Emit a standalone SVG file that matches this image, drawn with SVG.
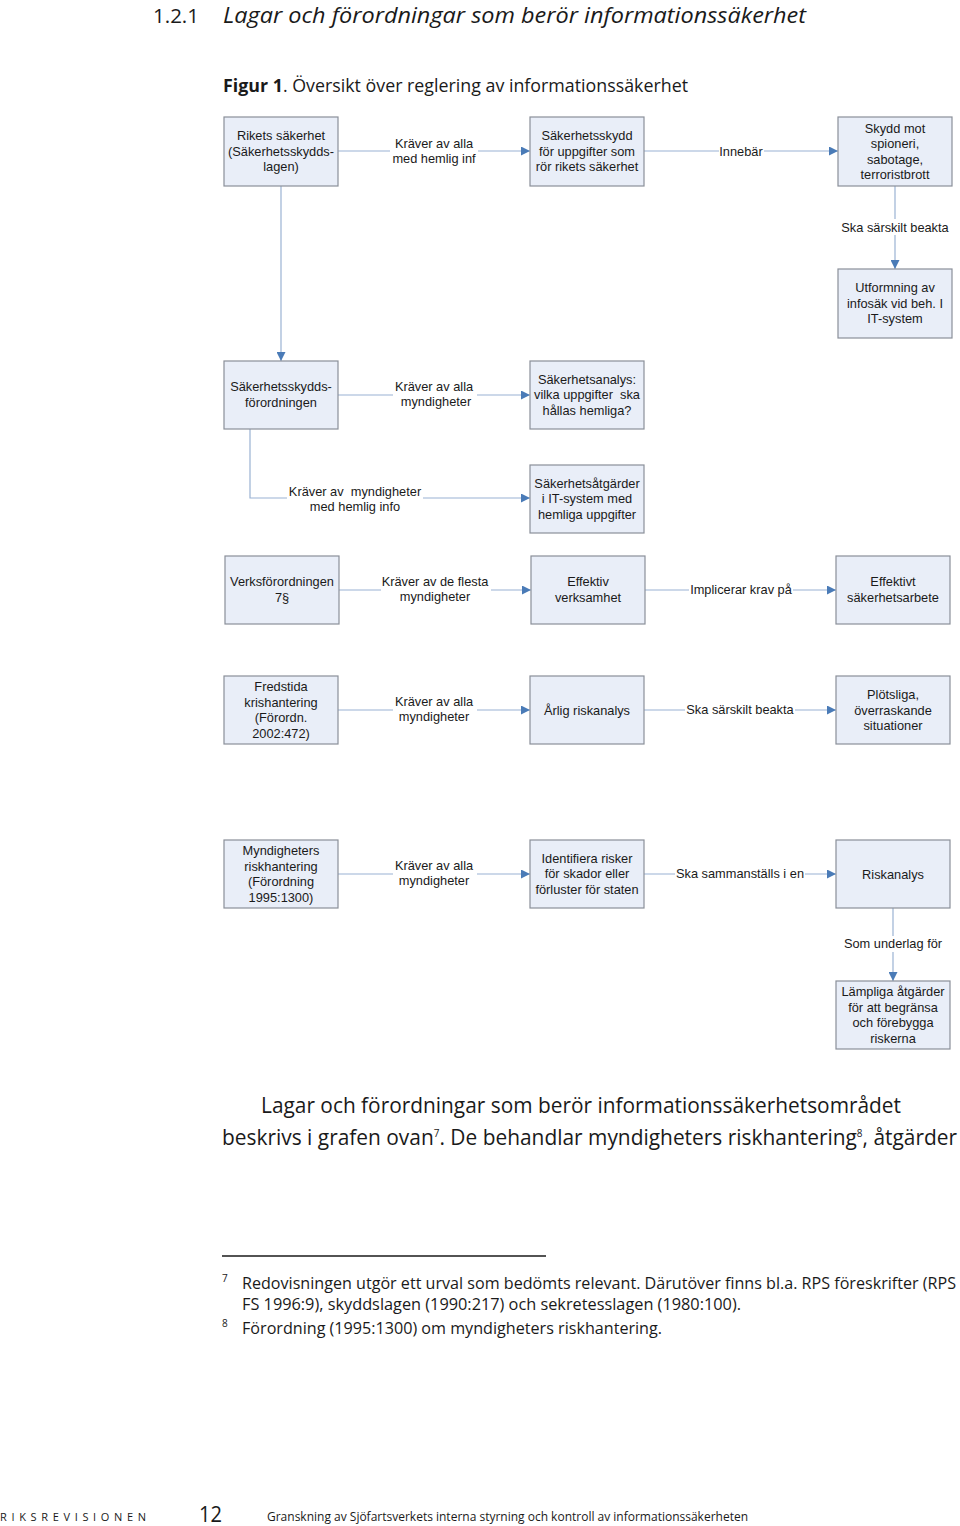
<svg xmlns="http://www.w3.org/2000/svg" width="960" height="1526" viewBox="0 0 960 1526">
<defs>
<style>
.box{fill:#e9eef8;stroke:#8a8f99;stroke-width:1.2}
.bt{font-family:"Liberation Sans",Arial,sans-serif;font-size:12.8px;fill:#1a1a1a;text-anchor:middle}
.ln{fill:none;stroke:#9ab2d3;stroke-width:1.2}
.bg{fill:#ffffff}
.pg{font-family:"Open Sans","Lato",sans-serif;fill:#1a1a1a}
</style>
<marker id="ah" viewBox="0 0 10 10" refX="10" refY="5" markerWidth="9" markerHeight="9" markerUnits="userSpaceOnUse" orient="auto">
<path d="M0,0 L10,5 L0,10 z" fill="#4a7bb7"/>
</marker>
</defs>
<rect width="960" height="1526" fill="#ffffff"/>

<!-- page heading -->
<text class="pg" x="153" y="23" font-size="20" textLength="46" lengthAdjust="spacingAndGlyphs">1.2.1</text>
<text class="pg" x="223" y="23" font-size="22" font-style="italic" textLength="583" lengthAdjust="spacingAndGlyphs">Lagar och förordningar som berör informationssäkerhet</text>
<text class="pg" x="223" y="92" font-size="18" textLength="465" lengthAdjust="spacingAndGlyphs"><tspan font-weight="bold">Figur 1</tspan>. Översikt över reglering av informationssäkerhet</text>

<!-- connectors -->
<g id="connectors">
<line class="ln" x1="338" y1="151" x2="530" y2="151" marker-end="url(#ah)"/>
<rect class="bg" x="390" y="136" width="88" height="30"/>
<text class="bt" x="434" y="148">Kräver av alla</text>
<text class="bt" x="434" y="163">med hemlig inf</text>

<line class="ln" x1="644" y1="151" x2="838" y2="151" marker-end="url(#ah)"/>
<rect class="bg" x="719" y="143" width="45" height="16"/>
<text class="bt" x="741" y="156">Innebär</text>

<line class="ln" x1="895" y1="186" x2="895" y2="269" marker-end="url(#ah)"/>
<rect class="bg" x="840" y="219" width="110" height="16"/>
<text class="bt" x="895" y="232">Ska särskilt beakta</text>

<line class="ln" x1="281" y1="186" x2="281" y2="361" marker-end="url(#ah)"/>

<line class="ln" x1="338" y1="395" x2="530" y2="395" marker-end="url(#ah)"/>
<rect class="bg" x="393" y="380" width="84" height="30"/>
<text class="bt" x="434" y="391">Kräver av alla</text>
<text class="bt" x="436" y="406">myndigheter</text>

<polyline class="ln" points="250,429 250,498 530,498" marker-end="url(#ah)"/>
<rect class="bg" x="287" y="483" width="136" height="30"/>
<text class="bt" x="355" y="496" xml:space="preserve">Kräver av  myndigheter</text>
<text class="bt" x="355" y="511">med hemlig info</text>

<line class="ln" x1="339" y1="590" x2="531" y2="590" marker-end="url(#ah)"/>
<rect class="bg" x="381" y="575" width="110" height="30"/>
<text class="bt" x="435" y="586">Kräver av de flesta</text>
<text class="bt" x="435" y="601">myndigheter</text>

<line class="ln" x1="645" y1="590" x2="836" y2="590" marker-end="url(#ah)"/>
<rect class="bg" x="689" y="582" width="104" height="16"/>
<text class="bt" x="741" y="594">Implicerar krav på</text>

<line class="ln" x1="338" y1="710" x2="530" y2="710" marker-end="url(#ah)"/>
<rect class="bg" x="393" y="695" width="84" height="30"/>
<text class="bt" x="434" y="706">Kräver av alla</text>
<text class="bt" x="434" y="721">myndigheter</text>

<line class="ln" x1="644" y1="710" x2="836" y2="710" marker-end="url(#ah)"/>
<rect class="bg" x="685" y="702" width="110" height="16"/>
<text class="bt" x="740" y="714">Ska särskilt beakta</text>

<line class="ln" x1="338" y1="874" x2="530" y2="874" marker-end="url(#ah)"/>
<rect class="bg" x="393" y="859" width="84" height="30"/>
<text class="bt" x="434" y="870">Kräver av alla</text>
<text class="bt" x="434" y="885">myndigheter</text>

<line class="ln" x1="644" y1="874" x2="836" y2="874" marker-end="url(#ah)"/>
<rect class="bg" x="675" y="866" width="130" height="16"/>
<text class="bt" x="740" y="878">Ska sammanställs i en</text>

<line class="ln" x1="893" y1="908" x2="893" y2="981" marker-end="url(#ah)"/>
<rect class="bg" x="843" y="936" width="100" height="16"/>
<text class="bt" x="893" y="948">Som underlag för</text>
</g>

<!-- nodes -->
<g id="n-rikets">
<rect class="box" x="224" y="117" width="114" height="69"/>
<text class="bt" x="281" y="140">Rikets säkerhet</text>
<text class="bt" x="281" y="155.5">(Säkerhetsskydds-</text>
<text class="bt" x="281" y="171">lagen)</text>
</g>
<g id="n-sakskydd">
<rect class="box" x="530" y="117" width="114" height="69"/>
<text class="bt" x="587" y="140">Säkerhetsskydd</text>
<text class="bt" x="587" y="155.5">för uppgifter som</text>
<text class="bt" x="587" y="171">rör rikets säkerhet</text>
</g>
<g id="n-skydd">
<rect class="box" x="838" y="117" width="114" height="69"/>
<text class="bt" x="895" y="132.5">Skydd mot</text>
<text class="bt" x="895" y="148">spioneri,</text>
<text class="bt" x="895" y="163.5">sabotage,</text>
<text class="bt" x="895" y="179">terroristbrott</text>
</g>
<g id="n-utformning">
<rect class="box" x="838" y="269" width="114" height="69"/>
<text class="bt" x="895" y="292">Utformning av</text>
<text class="bt" x="895" y="307.5">infosäk vid beh. I</text>
<text class="bt" x="895" y="323">IT-system</text>
</g>
<g id="n-sakforordning">
<rect class="box" x="224" y="361" width="114" height="68"/>
<text class="bt" x="281" y="391">Säkerhetsskydds-</text>
<text class="bt" x="281" y="406.5">förordningen</text>
</g>
<g id="n-sakanalys">
<rect class="box" x="530" y="361" width="114" height="68"/>
<text class="bt" x="587" y="383.5">Säkerhetsanalys:</text>
<text class="bt" x="587" y="399" xml:space="preserve">vilka uppgifter  ska</text>
<text class="bt" x="587" y="414.5">hållas hemliga?</text>
</g>
<g id="n-sakatgarder">
<rect class="box" x="530" y="465" width="114" height="68"/>
<text class="bt" x="587" y="487.5">Säkerhetsåtgärder</text>
<text class="bt" x="587" y="503">i IT-system med</text>
<text class="bt" x="587" y="518.5">hemliga uppgifter</text>
</g>
<g id="n-verksforordning">
<rect class="box" x="225" y="556" width="114" height="68"/>
<text class="bt" x="282" y="586">Verksförordningen</text>
<text class="bt" x="282" y="601.5">7§</text>
</g>
<g id="n-effverksamhet">
<rect class="box" x="531" y="556" width="114" height="68"/>
<text class="bt" x="588" y="586">Effektiv</text>
<text class="bt" x="588" y="601.5">verksamhet</text>
</g>
<g id="n-effsakerhet">
<rect class="box" x="836" y="556" width="114" height="68"/>
<text class="bt" x="893" y="586">Effektivt</text>
<text class="bt" x="893" y="601.5">säkerhetsarbete</text>
</g>
<g id="n-fredstida">
<rect class="box" x="224" y="676" width="114" height="68"/>
<text class="bt" x="281" y="691">Fredstida</text>
<text class="bt" x="281" y="706.5">krishantering</text>
<text class="bt" x="281" y="722">(Förordn.</text>
<text class="bt" x="281" y="737.5">2002:472)</text>
</g>
<g id="n-arlig">
<rect class="box" x="530" y="676" width="114" height="68"/>
<text class="bt" x="587" y="714.5">Årlig riskanalys</text>
</g>
<g id="n-plotsliga">
<rect class="box" x="836" y="676" width="114" height="68"/>
<text class="bt" x="893" y="699">Plötsliga,</text>
<text class="bt" x="893" y="714.5">överraskande</text>
<text class="bt" x="893" y="730">situationer</text>
</g>
<g id="n-myndrisk">
<rect class="box" x="224" y="840" width="114" height="68"/>
<text class="bt" x="281" y="855">Myndigheters</text>
<text class="bt" x="281" y="870.5">riskhantering</text>
<text class="bt" x="281" y="886">(Förordning</text>
<text class="bt" x="281" y="901.5">1995:1300)</text>
</g>
<g id="n-identifiera">
<rect class="box" x="530" y="840" width="114" height="68"/>
<text class="bt" x="587" y="862.5">Identifiera risker</text>
<text class="bt" x="587" y="878">för skador eller</text>
<text class="bt" x="587" y="893.5">förluster för staten</text>
</g>
<g id="n-riskanalys">
<rect class="box" x="836" y="840" width="114" height="68"/>
<text class="bt" x="893" y="878.5">Riskanalys</text>
</g>
<g id="n-lampliga">
<rect class="box" x="836" y="981" width="114" height="68"/>
<text class="bt" x="893" y="996">Lämpliga åtgärder</text>
<text class="bt" x="893" y="1011.5">för att begränsa</text>
<text class="bt" x="893" y="1027">och förebygga</text>
<text class="bt" x="893" y="1042.5">riskerna</text>
</g>

<!-- body text -->
<text class="pg" x="261" y="1113" font-size="21" textLength="640" lengthAdjust="spacingAndGlyphs">Lagar och förordningar som berör informationssäkerhetsområdet</text>
<text class="pg" x="222" y="1145" font-size="21" textLength="735" lengthAdjust="spacingAndGlyphs">beskrivs i grafen ovan<tspan font-size="10" dy="-8">7</tspan><tspan dy="8">. De behandlar myndigheters riskhantering</tspan><tspan font-size="10" dy="-8">8</tspan><tspan dy="8">, åtgärder</tspan></text>

<!-- footnotes -->
<line x1="222" y1="1256" x2="546" y2="1256" stroke="#1a1a1a" stroke-width="1.5"/>
<text class="pg" x="222" y="1282" font-size="10">7</text>
<text class="pg" x="242" y="1289" font-size="16" textLength="714" lengthAdjust="spacingAndGlyphs">Redovisningen utgör ett urval som bedömts relevant. Därutöver finns bl.a. RPS föreskrifter (RPS</text>
<text class="pg" x="242" y="1310" font-size="16" textLength="499" lengthAdjust="spacingAndGlyphs">FS 1996:9), skyddslagen (1990:217) och sekretesslagen (1980:100).</text>
<text class="pg" x="222" y="1327" font-size="10">8</text>
<text class="pg" x="242" y="1334" font-size="16" textLength="420" lengthAdjust="spacingAndGlyphs">Förordning (1995:1300) om myndigheters riskhantering.</text>

<!-- footer -->
<text class="pg" x="0" y="1521" font-size="11" letter-spacing="4" textLength="150" lengthAdjust="spacing">RIKSREVISIONEN</text>
<text class="pg" x="199" y="1522" font-size="22" textLength="23" lengthAdjust="spacingAndGlyphs">12</text>
<text class="pg" x="267" y="1521" font-size="12" textLength="481" lengthAdjust="spacingAndGlyphs">Granskning av Sjöfartsverkets interna styrning och kontroll av informationssäkerheten</text>
</svg>
